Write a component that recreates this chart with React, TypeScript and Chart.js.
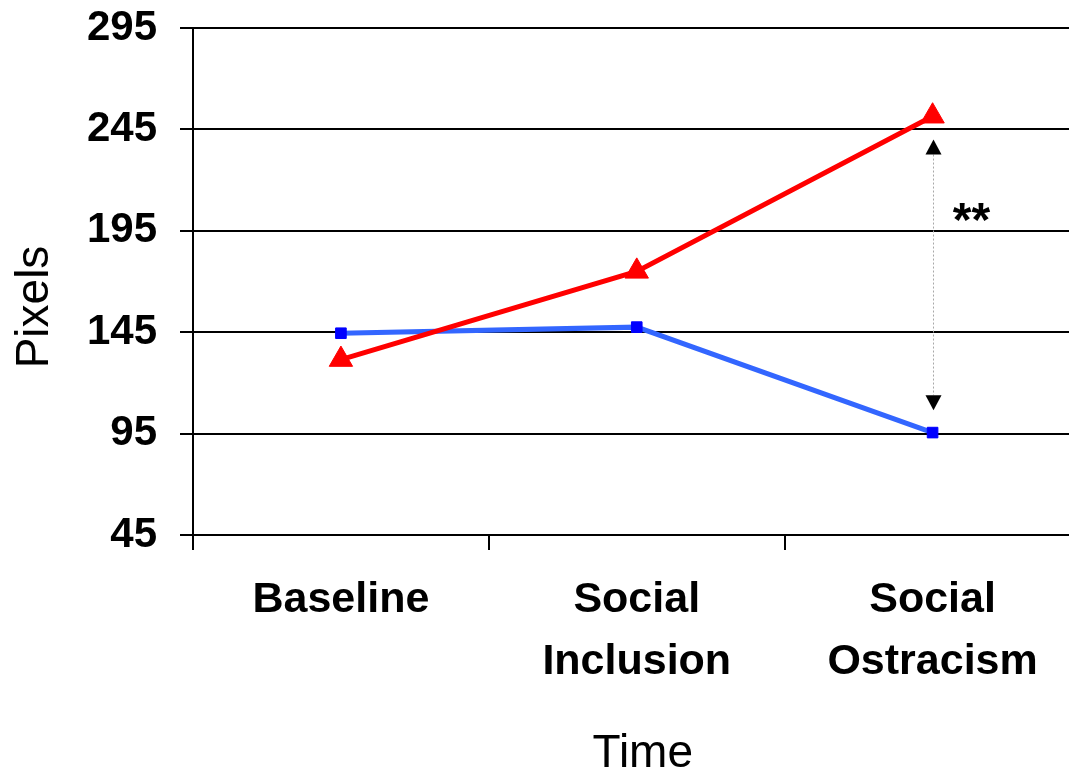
import React, { useEffect, useRef } from "react";
import { Chart, registerables } from "chart.js";

Chart.register(...registerables);

// ---- data ----
const categories: string[][] = [["Baseline"], ["Social", "Inclusion"], ["Social", "Ostracism"]];
const redSeriesValues = [131.5, 175, 251.5];
const blueSeriesValues = [144.5, 147.5, 95.5];
const yTickValues = [45, 95, 145, 195, 245, 295];
const yAxisTitle = "Pixels";
const xAxisTitle = "Time";
const significanceText = "**";
// significance bracket (in data units) at the last category
const bracketCategoryIndex = 2;
const bracketUpperValue = 240;
const bracketLowerValue = 106.5;
const significanceValue = 206;

const FONT = "'Liberation Sans', Arial, Helvetica, sans-serif";

const annotationPlugin = {
  id: "customAnnotations",
  afterDatasetsDraw(chart: any) {
    const { ctx, scales } = chart;
    const x = scales.x;
    const y = scales.y;
    const cx = Math.round(x.getPixelForValue(bracketCategoryIndex)) + 0.5;
    const yUp = y.getPixelForValue(bracketUpperValue);
    const yDown = y.getPixelForValue(bracketLowerValue);
    const ah = 15;
    const aw = 8;
    ctx.save();
    ctx.strokeStyle = "#A8A8A8";
    ctx.lineWidth = 1;
    ctx.setLineDash([2, 2]);
    ctx.beginPath();
    ctx.moveTo(cx, yUp + ah);
    ctx.lineTo(cx, yDown - ah);
    ctx.stroke();
    ctx.setLineDash([]);
    ctx.fillStyle = "#000000";
    ctx.beginPath();
    ctx.moveTo(cx, yUp);
    ctx.lineTo(cx - aw, yUp + ah);
    ctx.lineTo(cx + aw, yUp + ah);
    ctx.closePath();
    ctx.fill();
    ctx.beginPath();
    ctx.moveTo(cx, yDown);
    ctx.lineTo(cx - aw, yDown - ah);
    ctx.lineTo(cx + aw, yDown - ah);
    ctx.closePath();
    ctx.fill();
    ctx.font = `bold 48px ${FONT}`;
    ctx.textAlign = "center";
    ctx.textBaseline = "alphabetic";
    ctx.fillText(significanceText, cx + 38, y.getPixelForValue(significanceValue) + 28);
    ctx.restore();
  },
  afterDraw(chart: any) {
    const { ctx, chartArea } = chart;
    ctx.save();
    ctx.fillStyle = "#000000";
    ctx.font = `46px ${FONT}`;
    // y title
    ctx.save();
    ctx.translate(35, 307);
    ctx.rotate(-Math.PI / 2);
    ctx.textAlign = "center";
    ctx.textBaseline = "middle";
    ctx.fillText(yAxisTitle, 0, 0);
    ctx.restore();
    // x title
    ctx.textAlign = "center";
    ctx.textBaseline = "alphabetic";
    ctx.fillText(xAxisTitle, (chartArea.left + chartArea.right) / 2 + 6, 767);
    ctx.restore();
  },
};

export default function App() {
  const canvasRef = useRef<HTMLCanvasElement | null>(null);

  useEffect(() => {
    if (!canvasRef.current) return;
    const chart = new Chart(canvasRef.current, {
      type: "line",
      data: {
        labels: categories,
        datasets: [
          {
            label: "Series 1",
            data: redSeriesValues,
            borderColor: "#FF0000",
            backgroundColor: "#FF0000",
            borderWidth: 5,
            pointStyle: "triangle",
            pointRadius: 13.5,
            pointBackgroundColor: "#FF0000",
            pointBorderColor: "#FF0000",
            pointBorderWidth: 1,
            tension: 0,
          },
          {
            label: "Series 2",
            data: blueSeriesValues,
            borderColor: "#3366FF",
            backgroundColor: "#0000FF",
            borderWidth: 5,
            pointStyle: "rect",
            pointRadius: 7.5,
            pointBackgroundColor: "#0000FF",
            pointBorderColor: "#0000FF",
            pointBorderWidth: 1,
            tension: 0,
          },
        ],
      },
      options: {
        responsive: false,
        animation: false,
        devicePixelRatio: 1,
        layout: { padding: { top: 28, left: 0, right: 0, bottom: 0 } },
        plugins: {
          legend: { display: false },
          tooltip: { enabled: false },
          title: { display: false },
        },
        scales: {
          x: {
            type: "category",
            offset: true,
            grid: {
              offset: true,
              drawOnChartArea: false,
              drawTicks: true,
              tickLength: 15,
              color: "#000000",
              lineWidth: 2,
            },
            border: { display: true, color: "#000000", width: 2 },
            ticks: {
              color: "#000000",
              font: { family: FONT, size: 43, weight: "bold", lineHeight: "62px" },
              padding: 19,
              maxRotation: 0,
              minRotation: 0,
              autoSkip: false,
            },
            afterFit: (scale: any) => {
              scale.height = 238;
            },
          },
          y: {
            type: "linear",
            min: 45,
            max: 295,
            grid: {
              color: "#000000",
              lineWidth: 2,
              drawTicks: true,
              tickLength: 13,
            },
            border: { display: true, color: "#000000", width: 2 },
            ticks: {
              color: "#000000",
              font: { family: FONT, size: 42, weight: "bold" },
              padding: 23,
            },
            afterBuildTicks: (scale: any) => {
              scale.ticks = yTickValues.map((v) => ({ value: v }));
            },
            afterFit: (scale: any) => {
              scale.width = 193;
              scale.paddingTop = 0;
              scale.paddingBottom = 0;
            },
          },
        },
      },
      plugins: [annotationPlugin],
    } as any);
    return () => chart.destroy();
  }, []);

  return (
    <div
      style={{
        position: "fixed",
        left: 0,
        top: 0,
        width: 1069,
        height: 773,
        overflow: "hidden",
        background: "#ffffff",
      }}
    >
      <canvas ref={canvasRef} width={1095} height={773} style={{ display: "block" }} />
    </div>
  );
}
